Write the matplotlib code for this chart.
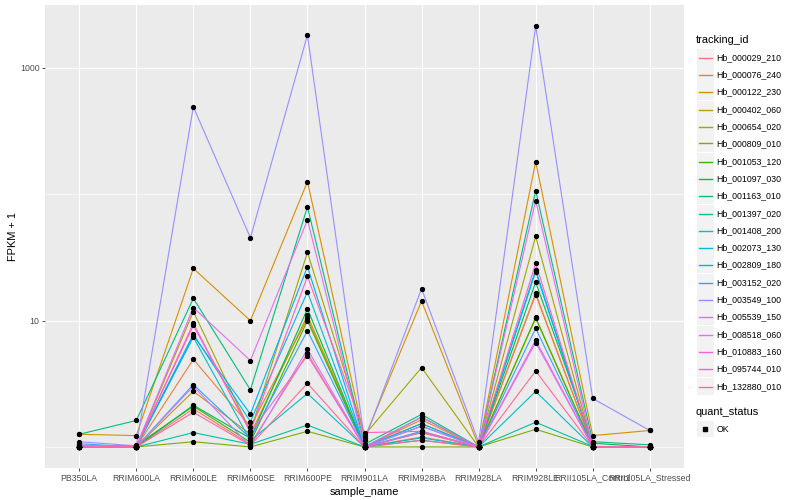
import numpy as np
import matplotlib
matplotlib.use('Agg')
import matplotlib.pyplot as plt
from matplotlib.lines import Line2D
from matplotlib.patches import Rectangle

plt.rcParams['font.family'] = ['Liberation Sans', 'DejaVu Sans']

samples = ['PB350LA', 'RRIM600LA', 'RRIM600LE', 'RRIM600SE', 'RRIM600PE', 'RRIM901LA',
           'RRIM928BA', 'RRIM928LA', 'RRIM928LE', 'RRII105LA_Control', 'RRII105LA_Stressed']

tracking_ids = ['Hb_000029_210', 'Hb_000076_240', 'Hb_000122_230', 'Hb_000402_060',
                'Hb_000654_020', 'Hb_000809_010', 'Hb_001053_120', 'Hb_001097_030',
                'Hb_001163_010', 'Hb_001397_020', 'Hb_001408_200', 'Hb_002073_130',
                'Hb_002809_180', 'Hb_003152_020', 'Hb_003549_100', 'Hb_005539_150',
                'Hb_008518_060', 'Hb_010883_160', 'Hb_095744_010', 'Hb_132880_010']

# FPKM + 1, one list per gene, in the order of samples
hb_000029_210 = [1.0, 1.0, 2.0, 1.05, 5.5, 1.0, 1.2, 1.0, 16.4, 1.0, 1.0]
hb_000076_240 = [1.0, 1.0, 4.94, 1.45, 10.4, 1.0, 1.64, 1.0, 16.1, 1.0, 1.0]
hb_000122_230 = [1.26, 1.23, 25.9, 10.0, 126, 1.17, 14.3, 1.02, 181, 1.23, 1.35]
hb_000402_060 = [1.0, 1.0, 2.76, 1.26, 11.0, 1.0, 1.53, 1.0, 10.4, 1.0, 1.0]
hb_000654_020 = [1.01, 1.0, 11.8, 1.33, 34.7, 1.24, 4.25, 1.0, 46.4, 1.0, 1.0]
hb_000809_010 = [1.0, 1.0, 1.10, 1.0, 1.33, 1.0, 1.0, 1.0, 1.38, 1.0, 1.0]
hb_001053_120 = [1.0, 1.03, 2.10, 1.09, 10.0, 1.0, 1.30, 1.0, 10.6, 1.0, 1.0]
hb_001097_030 = [1.0, 1.0, 2.14, 1.17, 12.4, 1.0, 1.72, 1.0, 20.2, 1.07, 1.0]
hb_001163_010 = [1.26, 1.62, 15.0, 2.83, 79.6, 1.05, 1.81, 1.0, 107, 1.10, 1.04]
hb_001397_020 = [1.0, 1.0, 1.30, 1.05, 1.49, 1.0, 1.13, 1.0, 1.57, 1.01, 1.0]
hb_001408_200 = [1.0, 1.0, 7.4, 1.12, 2.65, 1.0, 1.18, 1.0, 2.75, 1.0, 1.0]
hb_002073_130 = [1.0, 1.0, 7.79, 1.59, 16.9, 1.0, 1.46, 1.0, 24.4, 1.0, 1.0]
hb_002809_180 = [1.0, 1.0, 7.61, 1.82, 26.7, 1.0, 1.53, 1.0, 25.3, 1.0, 1.0]
hb_003152_020 = [1.06, 1.0, 3.12, 1.17, 8.33, 1.0, 1.33, 1.0, 8.69, 1.0, 1.0]
hb_003549_100 = [1.10, 1.02, 492, 45.3, 1824, 1.13, 17.9, 1.09, 2148, 2.42, 1.35]
hb_005539_150 = [1.0, 1.0, 3.03, 1.01, 5.93, 1.0, 1.46, 1.0, 6.70, 1.0, 1.0]
hb_008518_060 = [1.03, 1.01, 12.7, 4.83, 62.8, 1.0, 1.72, 1.0, 89.3, 1.0, 1.0]
hb_010883_160 = [1.0, 1.0, 9.5, 1.30, 5.29, 1.0, 1.30, 1.0, 7.0, 1.0, 1.0]
hb_095744_010 = [1.0, 1.0, 9.18, 1.33, 22.4, 1.30, 1.33, 1.0, 28.4, 1.0, 1.0]
hb_132880_010 = [1.0, 1.0, 1.88, 1.03, 3.19, 1.0, 1.13, 1.0, 4.00, 1.0, 1.0]

series = [hb_000029_210, hb_000076_240, hb_000122_230, hb_000402_060, hb_000654_020,
          hb_000809_010, hb_001053_120, hb_001097_030, hb_001163_010, hb_001397_020,
          hb_001408_200, hb_002073_130, hb_002809_180, hb_003152_020, hb_003549_100,
          hb_005539_150, hb_008518_060, hb_010883_160, hb_095744_010, hb_132880_010]


def hcl_hex(h, c=100.0, l=65.0):
    # polarLUV -> sRGB, like R's hcl()
    xn, yn, zn = 95.047, 100.0, 108.883
    y = yn * ((l + 16) / 116) ** 3
    un = 4 * xn / (xn + 15 * yn + 3 * zn)
    vn = 9 * yn / (xn + 15 * yn + 3 * zn)
    u = c * np.cos(np.radians(h)) / (13 * l) + un
    v = c * np.sin(np.radians(h)) / (13 * l) + vn
    x = 9 * y * u / (4 * v)
    z = -x / 3 - 5 * y + 3 * y / v
    x, y, z = x / 100, y / 100, z / 100
    r = 3.240479 * x - 1.537150 * y - 0.498535 * z
    g = -0.969256 * x + 1.875992 * y + 0.041556 * z
    b = 0.055648 * x - 0.204043 * y + 1.057311 * z
    out = []
    for t in (r, g, b):
        t = 1.055 * t ** (1 / 2.4) - 0.055 if t > 0.0031308 else 12.92 * t
        out.append(min(max(t, 0), 1))
    return tuple(out)


hues = np.linspace(15, 375, len(tracking_ids) + 1)[:-1]
colors = [hcl_hex(h) for h in hues]

fig = plt.figure(figsize=(8, 5), dpi=100)
ax = fig.add_axes([45 / 800, 1 - 468 / 500, (684 - 45) / 800, (468 - 5) / 500])
ax.set_facecolor('#EBEBEB')

x = np.arange(len(samples))
for vals, col in zip(series, colors):
    ax.plot(x, vals, color=col, lw=0.8, zorder=3)
for vals in series:
    ax.plot(x, vals, ls='none', marker='o', ms=2.8, color='black', zorder=4)

ax.set_yscale('log')
allv = np.log10(np.concatenate([np.array(s, float) for s in series]))
lo, hi = allv.min(), allv.max()
pad = (hi - lo) * 0.05
ax.set_ylim(10 ** (lo - pad), 10 ** (hi + pad))
ax.set_xlim(-0.6, len(samples) - 0.4)

ax.set_yticks([10, 1000])
ax.set_yticklabels(['10', '1000'])
ax.set_yticks([1, 100], minor=True)
ax.yaxis.set_minor_formatter(matplotlib.ticker.NullFormatter())
ax.set_xticks(x)
ax.set_xticklabels(samples)
ax.grid(which='major', color='white', lw=0.8, zorder=0)
ax.grid(which='minor', axis='y', color='white', lw=0.4, zorder=0)
ax.set_axisbelow(True)
ax.tick_params(which='major', length=2, width=0.6, color='#333333', labelsize=6.3,
               labelcolor='#4D4D4D', pad=2)
ax.tick_params(which='minor', length=0)
for s in ax.spines.values():
    s.set_visible(False)
ax.set_xlabel('sample_name', fontsize=7.9, labelpad=3)
ax.set_ylabel('FPKM + 1', fontsize=7.9, labelpad=1)

# legends drawn by hand, ggplot style
W, H = 800, 500


def fx(px):
    return px / W


def fy(py):
    return 1 - py / H


fig.text(fx(696), fy(40), 'tracking_id', fontsize=7.9, va='center', ha='left')
step = 17.3
for i, (tid, col) in enumerate(zip(tracking_ids, colors)):
    yc = np.floor(57.3 + i * step) + 0.5
    fig.add_artist(Rectangle((fx(697), fy(yc + 8.3)), fx(16.5), 16.6 / H,
                             facecolor='#F2F2F2', edgecolor='none', zorder=1))
    fig.add_artist(Line2D([fx(698.5), fx(712)], [fy(yc), fy(yc)], color=col, lw=1.0,
                          zorder=2))
    fig.text(fx(716.5), fy(yc), tid, fontsize=6.3, va='center', ha='left')

fig.text(fx(696), fy(412), 'quant_status', fontsize=7.9, va='center', ha='left')
fig.add_artist(Rectangle((fx(697), fy(429 + 8.3)), fx(16.5), 16.6 / H,
                         facecolor='#F2F2F2', edgecolor='none'))
fig.add_artist(Line2D([fx(705)], [fy(429)], ls='none', marker='s', ms=2.2, color='black'))
fig.text(fx(716.5), fy(429), 'OK', fontsize=6.3, va='center', ha='left')

fig.savefig('out.png', dpi=100)
